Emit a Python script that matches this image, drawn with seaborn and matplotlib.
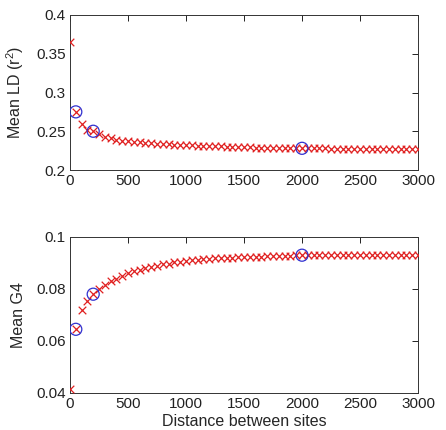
import numpy as np
import pandas as pd
import matplotlib
matplotlib.use('Agg')
import matplotlib.pyplot as plt
import seaborn as sns

distance = list(range(0, 3001, 50))

mean_ld = [0.365, 0.275, 0.260, 0.252, 0.250, 0.246, 0.243, 0.241, 0.239, 0.238,
           0.237, 0.236, 0.2355, 0.235, 0.2345, 0.234, 0.2335, 0.233, 0.2328, 0.2325,
           0.232, 0.2318, 0.2315, 0.2312, 0.231, 0.2308, 0.2305, 0.2302, 0.230, 0.2298,
           0.2295, 0.2293, 0.229, 0.2288, 0.2287, 0.2285, 0.2284, 0.2283, 0.2282, 0.2281,
           0.228, 0.228, 0.2279, 0.2278, 0.2278, 0.2277, 0.2277, 0.2276, 0.2276, 0.2275,
           0.2275, 0.2275, 0.2274, 0.2274, 0.2274, 0.2273, 0.2273, 0.2273, 0.2272, 0.2272,
           0.2272]

mean_g4 = [0.0415, 0.0645, 0.072, 0.0755, 0.078, 0.080, 0.0815, 0.083, 0.084, 0.085,
           0.086, 0.0868, 0.0875, 0.088, 0.0885, 0.089, 0.0895, 0.0898, 0.0902, 0.0905,
           0.0908, 0.091, 0.0912, 0.0914, 0.0916, 0.0918, 0.0919, 0.092, 0.0921, 0.0922,
           0.0923, 0.0924, 0.0925, 0.0925, 0.0926, 0.0927, 0.0927, 0.0928, 0.0928, 0.0929,
           0.093, 0.093, 0.0931, 0.093, 0.0931, 0.0931, 0.0932, 0.0931, 0.0932, 0.0932,
           0.0931, 0.0932, 0.0932, 0.0931, 0.0932, 0.0931, 0.0932, 0.0931, 0.0931, 0.0931,
           0.0931]

highlight = [50, 200, 2000]

df = pd.DataFrame({'dist': distance, 'ld': mean_ld, 'g4': mean_g4})
hl = df[df['dist'].isin(highlight)]

sns.set_style('white')
plt.rcParams['font.family'] = ['Liberation Sans', 'DejaVu Sans']
plt.rcParams['mathtext.default'] = 'regular'
plt.rcParams['font.size'] = 11

fig = plt.figure(figsize=(4.46, 4.30), dpi=100)
ax1 = fig.add_axes([70/446, 1 - 170/430, 348/446, 155/430])
ax2 = fig.add_axes([70/446, 1 - 393/430, 348/446, 156/430])

panels = [(ax1, 'ld', (0.2, 0.4), np.arange(0.2, 0.401, 0.05), 'Mean LD (r$^2$)'),
          (ax2, 'g4', (0.04, 0.1), np.arange(0.04, 0.101, 0.02), 'Mean G4')]

for ax, col, ylim, yticks, ylabel in panels:
    sns.scatterplot(data=df, x='dist', y=col, marker='x', color='#e02020',
                    s=30, linewidth=0.9, ax=ax, zorder=3)
    sns.scatterplot(data=hl, x='dist', y=col, marker='o', facecolor='none',
                    edgecolor='#3030d0', s=75, linewidth=0.9, ax=ax, zorder=4)
    ax.set_xlim(0, 3000)
    ax.set_ylim(*ylim)
    ax.set_xticks(np.arange(0, 3001, 500))
    ax.set_yticks(yticks)
    ax.set_yticklabels(['%g' % v for v in yticks])
    ax.set_ylabel(ylabel, fontsize=11.5, labelpad=7)
    ax.set_xlabel('')
    ax.tick_params(direction='in', length=4, width=0.7, top=True, right=True,
                   labelsize=11, colors='#222222', pad=3)
    for sp in ax.spines.values():
        sp.set_color('#333333')
        sp.set_linewidth(0.7)

ax2.set_xlabel('Distance between sites', fontsize=11.5, labelpad=2)

plt.savefig('out.png', dpi=100)
